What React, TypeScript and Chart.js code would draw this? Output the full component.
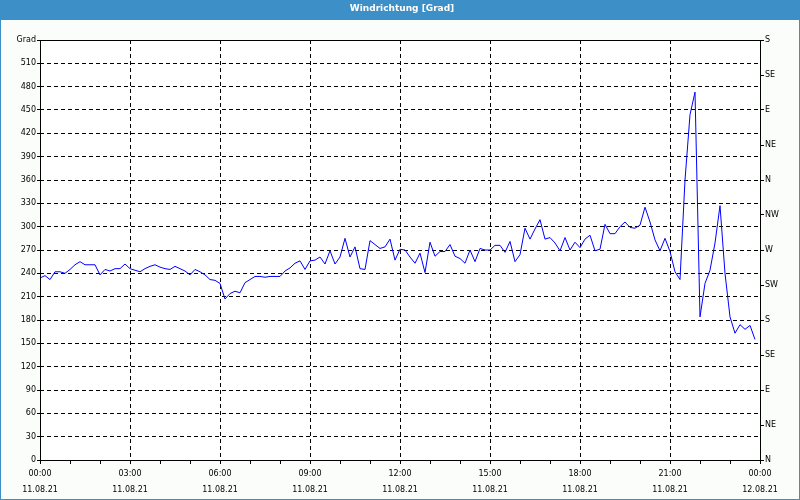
import React, { useEffect, useRef } from 'react';
import { Chart, registerables } from 'chart.js';

Chart.register(...registerables);

// Wind direction in degrees, one value every 10 minutes
const dir00to06 = [
  234, 237, 232, 242, 242, 240, 245, 251, 255, 251, 251, 251,
  238, 245, 243, 246, 246, 252, 246, 244, 242, 246, 249, 251,
  248, 246, 245, 249, 246, 243, 238, 245, 242, 238, 232, 231,
];
const dir06to12 = [
  227, 207, 214, 217, 215, 228, 232, 236, 236, 235, 236, 236,
  236, 243, 247, 253, 256, 245, 256, 257, 261, 252, 269, 252,
  261, 285, 261, 274, 246, 245, 282, 277, 272, 274, 284, 257,
];
const dir12to18 = [
  271, 270, 261, 253, 266, 241, 280, 262, 268, 268, 277, 262,
  259, 253, 270, 255, 272, 270, 270, 276, 276, 267, 281, 255,
  264, 298, 284, 297, 309, 284, 286, 279, 269, 286, 270, 280,
];
const dir18to24 = [
  273, 284, 289, 269, 271, 303, 291, 291, 300, 306, 299, 298,
  302, 325, 306, 283, 269, 285, 268, 242, 232, 360, 444, 473,
  184, 227, 244, 279, 327, 240, 184, 163, 174, 168, 173, 155,
];
const windDirection = [...dir00to06, ...dir06to12, ...dir12to18, ...dir18to24];
const sampleMinutes = 10;

const timeLabels = ['00:00', '03:00', '06:00', '09:00', '12:00', '15:00', '18:00', '21:00', '00:00'];
const dateLabels = ['11.08.21', '11.08.21', '11.08.21', '11.08.21', '11.08.21', '11.08.21', '11.08.21', '11.08.21', '12.08.21'];
const compassLabels = ['N', 'NE', 'E', 'SE', 'S', 'SW', 'W', 'NW', 'N', 'NE', 'E', 'SE', 'S'];
const chartTitle = 'Windrichtung [Grad]';
const unitLabel = 'Grad';

const FONT = '"DejaVu Sans", Verdana, sans-serif';

export default function App() {
  const ref = useRef<HTMLCanvasElement | null>(null);

  useEffect(() => {
    document.body.style.margin = '0';
    const canvas = ref.current;
    if (!canvas) return;

    const framePlugin = {
      id: 'frame',
      beforeDraw(chart: any) {
        const { ctx, width, height, chartArea } = chart;
        ctx.save();
        ctx.fillStyle = '#fbfdfb';
        ctx.fillRect(0, 0, width, height);
        ctx.fillStyle = '#ffffff';
        ctx.fillRect(chartArea.left, chartArea.top, chartArea.right - chartArea.left, chartArea.bottom - chartArea.top);
        ctx.fillStyle = '#3d8fc7';
        ctx.fillRect(0, 0, width, 20);
        ctx.fillStyle = '#ffffff';
        ctx.font = `bold 9px ${FONT}`;
        ctx.textAlign = 'center';
        ctx.textBaseline = 'middle';
        ctx.fillText(chartTitle, width / 2 + 2, 9);
        ctx.strokeStyle = '#3d8fc7';
        ctx.lineWidth = 1;
        ctx.strokeRect(0.5, 0.5, width - 1, height - 1);
        ctx.restore();
      },
      afterDraw(chart: any) {
        const { ctx, chartArea } = chart;
        ctx.save();
        ctx.strokeStyle = '#000000';
        ctx.lineWidth = 1;
        ctx.setLineDash([]);
        ctx.strokeRect(
          Math.round(chartArea.left) + 0.5,
          Math.round(chartArea.top) + 0.5,
          Math.round(chartArea.right) - Math.round(chartArea.left),
          Math.round(chartArea.bottom) - Math.round(chartArea.top)
        );
        ctx.restore();
      },
    };

    const points = windDirection.map((v, i) => ({ x: i * sampleMinutes, y: v }));

    const chart = new Chart(canvas, {
      type: 'line',
      data: {
        datasets: [
          {
            data: points,
            borderColor: '#0000ff',
            borderWidth: 1,
            pointRadius: 0,
            tension: 0,
            fill: false,
            yAxisID: 'y',
          },
        ],
      },
      options: {
        animation: false,
        responsive: false,
        maintainAspectRatio: false,
        devicePixelRatio: 1,
        layout: { padding: { top: 40, left: 0, right: 0, bottom: 0 } },
        plugins: {
          legend: { display: false },
          tooltip: { enabled: false },
          title: { display: false },
        },
        scales: {
          x: {
            type: 'linear',
            min: 0,
            max: 1440,
            afterFit(s: any) { s.height = 40; },
            border: { display: false, dash: [4, 3] },
            grid: {
              color: (c: any) => {
                const v = c.tick ? c.tick.value : 0;
                return v % 180 === 0 && v !== 0 && v !== 1440 ? '#000000' : 'rgba(0,0,0,0)';
              },
              tickColor: '#000000',
              tickLength: 4,
              lineWidth: 1,
            },
            ticks: {
              stepSize: 60,
              autoSkip: false,
              maxRotation: 0,
              minRotation: 0,
              padding: 2,
              color: '#000000',
              font: { family: FONT, size: 8, lineHeight: 2 },
              callback: (value: any) => {
                const v = Number(value);
                if (v % 180 !== 0) return '';
                const i = v / 180;
                return [timeLabels[i], dateLabels[i]];
              },
            },
          },
          y: {
            type: 'linear',
            position: 'left',
            min: 0,
            max: 540,
            afterFit(s: any) { s.width = 40; },
            border: { display: false, dash: [4, 3] },
            grid: {
              color: (c: any) => {
                const v = c.tick ? c.tick.value : 0;
                return v !== 0 && v !== 540 ? '#000000' : 'rgba(0,0,0,0)';
              },
              tickColor: '#000000',
              tickLength: 3,
              lineWidth: 1,
            },
            ticks: {
              stepSize: 30,
              padding: 1,
              color: '#000000',
              font: { family: FONT, size: 8 },
              callback: (value: any) => (Number(value) === 540 ? unitLabel : String(value)),
            },
          },
          yDir: {
            type: 'linear',
            position: 'right',
            min: 0,
            max: 540,
            afterFit(s: any) { s.width = 40; },
            border: { display: false },
            grid: {
              drawOnChartArea: false,
              tickColor: '#000000',
              tickLength: 4,
              lineWidth: 1,
            },
            ticks: {
              stepSize: 45,
              padding: 1,
              color: '#000000',
              font: { family: FONT, size: 8 },
              callback: (value: any) => compassLabels[Math.round(Number(value) / 45)] ?? '',
            },
          },
        },
      },
      plugins: [framePlugin],
    } as any);

    return () => chart.destroy();
  }, []);

  return (
    <div style={{ position: 'absolute', left: 0, top: 0, width: 800, height: 500 }}>
      <canvas ref={ref} width={800} height={500} style={{ width: 800, height: 500, display: 'block' }} />
    </div>
  );
}
